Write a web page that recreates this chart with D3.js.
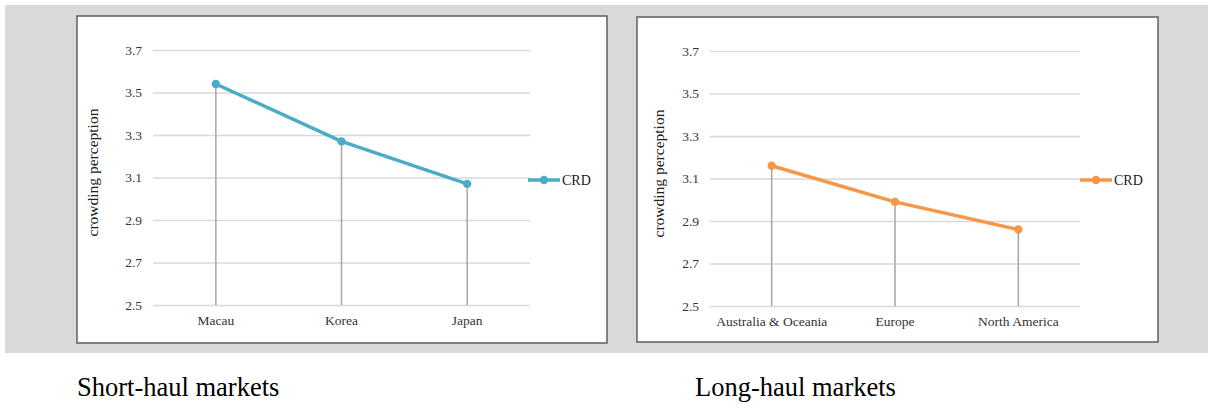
<!DOCTYPE html>
<html>
<head>
<meta charset="utf-8">
<script src="https://cdn.jsdelivr.net/npm/d3@7"></script>
<style>
  html, body { margin: 0; padding: 0; background: #ffffff; }
  svg { display: block; }
  svg text { font-family: 'Liberation Serif', 'Times New Roman', serif; }
</style>
</head>
<body>
<svg id="chart" width="1208" height="417"></svg>
<script>
// ---- data ----
const shortCategories = ["Macau", "Korea", "Japan"];
const shortValues = [3.54, 3.27, 3.07];
const longCategories = ["Australia & Oceania", "Europe", "North America"];
const longValues = [3.16, 2.99, 2.86];
const yTicks = [2.5, 2.7, 2.9, 3.1, 3.3, 3.5, 3.7];
const yDomain = [2.5, 3.7];
const seriesName = "CRD";
const yTitle = "crowding perception";
const captions = ["Short-haul markets", "Long-haul markets"];

// ---- layout ----
const FONT = "'Liberation Serif', 'Times New Roman', serif";
const svg = d3.select("#chart");

svg.append("rect").attr("x", 5).attr("y", 5).attr("width", 1203).attr("height", 348)
  .attr("fill", "#d9d9d9");

const panels = [
  { cats: shortCategories, vals: shortValues, color: "#4bacc6",
    frame: [77, 16, 607, 343], plot: [153, 530], y: [305, 50],
    titleX: 92, legendX: 528, caption: captions[0], capX: 77 },
  { cats: longCategories, vals: longValues, color: "#f79646",
    frame: [637, 17, 1158, 342], plot: [710, 1080], y: [306, 51],
    titleX: 658, legendX: 1080, caption: captions[1], capX: 695 }
];

panels.forEach(p => {
  const [fx0, fy0, fx1, fy1] = p.frame;
  svg.append("rect").attr("x", fx0).attr("y", fy0)
    .attr("width", fx1 - fx0).attr("height", fy1 - fy0)
    .attr("fill", "#ffffff").attr("stroke", "#666666").attr("stroke-width", 1.6);

  const x = d3.scaleBand().domain(p.cats).range(p.plot).padding(0);
  const y = d3.scaleLinear().domain(yDomain).range(p.y);
  const g = svg.append("g");

  // y axis with gridlines
  const yAxis = g.append("g")
    .attr("transform", `translate(${p.plot[0]},0)`)
    .call(d3.axisLeft(y).tickValues(yTicks).tickFormat(d3.format(".1f"))
      .tickSize(-(p.plot[1] - p.plot[0])).tickPadding(11));
  yAxis.attr("font-family", null);
  yAxis.select(".domain").remove();
  yAxis.selectAll(".tick line").attr("stroke", "#d9d9d9").attr("stroke-width", 1.5);
  yAxis.selectAll(".tick text").style("font-family", FONT).style("font-size", "13.5px")
    .attr("fill", "#333333");

  // x axis labels
  const xAxis = g.append("g")
    .attr("transform", `translate(0,${p.y[0]})`)
    .call(d3.axisBottom(x).tickSize(0).tickPadding(10));
  xAxis.attr("font-family", null);
  xAxis.select(".domain").remove();
  xAxis.selectAll(".tick text").style("font-family", FONT).style("font-size", "13.5px")
    .attr("fill", "#333333");

  // y title
  g.append("text")
    .attr("transform", `translate(${p.titleX},${(p.y[0] + p.y[1]) / 2 - 5}) rotate(-90)`)
    .attr("text-anchor", "middle").attr("dominant-baseline", "central")
    .style("font-family", FONT).style("font-size", "15.5px").attr("fill", "#222")
    .text(yTitle);

  const pts = p.cats.map((c, i) => ({ c, v: p.vals[i] }));

  // drop lines
  g.selectAll(".drop").data(pts).join("line")
    .attr("x1", d => x(d.c) + x.bandwidth() / 2).attr("x2", d => x(d.c) + x.bandwidth() / 2)
    .attr("y1", d => y(d.v)).attr("y2", y(yDomain[0]))
    .attr("stroke", "#a6a6a6").attr("stroke-width", 1.5);

  // series line
  g.append("path").datum(pts)
    .attr("d", d3.line().x(d => x(d.c) + x.bandwidth() / 2).y(d => y(d.v)))
    .attr("fill", "none").attr("stroke", p.color).attr("stroke-width", 3.5)
    .attr("stroke-linejoin", "round");

  g.selectAll(".pt").data(pts).join("circle")
    .attr("cx", d => x(d.c) + x.bandwidth() / 2).attr("cy", d => y(d.v))
    .attr("r", 4.2).attr("fill", p.color);

  // legend
  const ly = 180;
  g.append("line").attr("x1", p.legendX).attr("x2", p.legendX + 32)
    .attr("y1", ly).attr("y2", ly).attr("stroke", p.color).attr("stroke-width", 3.5);
  g.append("circle").attr("cx", p.legendX + 16).attr("cy", ly).attr("r", 4.2).attr("fill", p.color);
  g.append("text").attr("x", p.legendX + 34).attr("y", ly).attr("dominant-baseline", "central")
    .style("font-family", FONT).style("font-size", "14px").attr("fill", "#222").text(seriesName);

  // caption
  svg.append("text").attr("x", p.capX).attr("y", 396)
    .style("font-family", FONT).style("font-size", "26.5px").attr("fill", "#000")
    .text(p.caption);
});
</script>
</body>
</html>
